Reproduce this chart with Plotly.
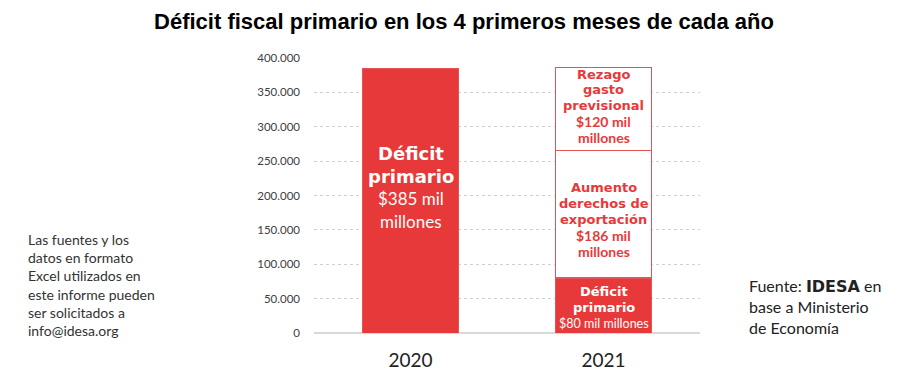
import plotly.graph_objects as go

years = ["2020", "2021"]
deficit_primario = [385000, 80000]
aumento_derechos = [186000]
rezago_previsional = [120000]
y_ticks = [0, 50000, 100000, 150000, 200000, 250000, 300000, 350000, 400000]

RED = "#E8393A"
BORDER = "#E45456"
HEAD = "DejaVu Sans"
BODY = "Lato"

fig = go.Figure()
fig.add_trace(go.Bar(x=years, y=deficit_primario, marker=dict(color=RED, line=dict(color=BORDER, width=1)),
                     width=0.5, hoverinfo="skip"))
fig.add_trace(go.Bar(x=[years[1]], y=aumento_derechos, marker=dict(color="white", line=dict(color=BORDER, width=1.2)),
                     width=0.5, hoverinfo="skip"))
fig.add_trace(go.Bar(x=[years[1]], y=rezago_previsional, marker=dict(color="white", line=dict(color=BORDER, width=1.2)),
                     width=0.5, hoverinfo="skip"))

ann = []
def line(xi, y, text, shift, family, size, color, bold=False):
    t = f"<b>{text}</b>" if bold else text
    ann.append(dict(x=xi, y=y, xref="x", yref="y", text=t, showarrow=False, yshift=shift,
                    font=dict(family=family, size=size, color=color), xanchor="center", yanchor="middle"))

# 2020 bar (category index 0)
mid = deficit_primario[0] / 2
line(0, mid, "Déficit", 47, HEAD, 18, "white", True)
line(0, mid, "primario", 24, HEAD, 18, "white", True)
line(0, mid, "$385 mil", 2, BODY, 17, "white")
line(0, mid, "millones", -21, BODY, 17, "white")

# 2021 bottom (category index 1)
mid = deficit_primario[1] / 2
line(1, mid, "Déficit", 14.5, HEAD, 13, "white", True)
line(1, mid, "primario", -1.5, HEAD, 13, "white", True)
line(1, mid, "$80 mil millones", -17.5, BODY, 12.5, "white")

# 2021 middle
mid = deficit_primario[1] + aumento_derechos[0] / 2
line(1, mid, "Aumento", 27, HEAD, 13, RED, True)
line(1, mid, "derechos de", 11, HEAD, 13, RED, True)
line(1, mid, "exportación", -5, HEAD, 13, RED, True)
line(1, mid, "$186 mil", -21, BODY, 14, RED, True)
line(1, mid, "millones", -37, BODY, 14, RED, True)

# 2021 top
mid = deficit_primario[1] + aumento_derechos[0] + rezago_previsional[0] / 2
line(1, mid, "Rezago", 34, HEAD, 13, RED, True)
line(1, mid, "gasto", 19, HEAD, 13, RED, True)
line(1, mid, "previsional", 3, HEAD, 13, RED, True)
line(1, mid, "$120 mil", -13, BODY, 14, RED, True)
line(1, mid, "millones", -29, BODY, 14, RED, True)

# Side texts
ann.append(dict(xref="paper", yref="paper", x=-0.746, y=0.175, xanchor="left", yanchor="middle", showarrow=False,
                align="left",
                text="Las fuentes y los<br>datos en formato<br>Excel utilizados en<br>este informe pueden<br>ser solicitados a<br>info@idesa.org",
                font=dict(family=BODY, size=14, color="#333333")))
ann.append(dict(xref="paper", yref="paper", x=1.122, y=0.095, xanchor="left", yanchor="middle", showarrow=False,
                align="left",
                text="Fuente: <span style='font-family:DejaVu Sans'><b>IDESA</b></span> en<br>base a Ministerio<br>de Economía",
                font=dict(family=BODY, size=16, color="#222222")))

fig.update_layout(
    width=914, height=377,
    margin=dict(l=314, r=214, t=58, b=44, autoexpand=False),
    paper_bgcolor="white", plot_bgcolor="white",
    barmode="stack", showlegend=False,
    separators=",.",
    title=dict(text="<b>Déficit fiscal primario en los 4 primeros meses de cada año</b>",
               x=(464 - 314) / (914 - 314 - 214), xref="paper", xanchor="center",
               y=(377 - 21) / 377, yref="container", yanchor="middle",
               font=dict(family="Liberation Sans", size=22, color="black")),
    annotations=ann,
)
fig.update_xaxes(type="category", range=[-0.5, 1.5], showgrid=False, showline=False, ticks="", automargin=False,
                 tickfont=dict(family=BODY, size=19, color="#222222"), ticklabelstandoff=14)
fig.update_yaxes(range=[0, 400000], tickvals=y_ticks, tickformat=",d", showgrid=True, griddash="dot",
                 gridcolor="#D0D0D0", gridwidth=1, zeroline=True, zerolinecolor="#D9D9D9", zerolinewidth=1.5,
                 showline=False, ticks="", automargin=False, tickfont=dict(family=BODY, size=11.5, color="#404040"),
                 ticklabelstandoff=13)

fig.write_html("out.html", config={"displayModeBar": False},
               post_script="document.body.style.margin='0';document.body.style.padding='0';")
